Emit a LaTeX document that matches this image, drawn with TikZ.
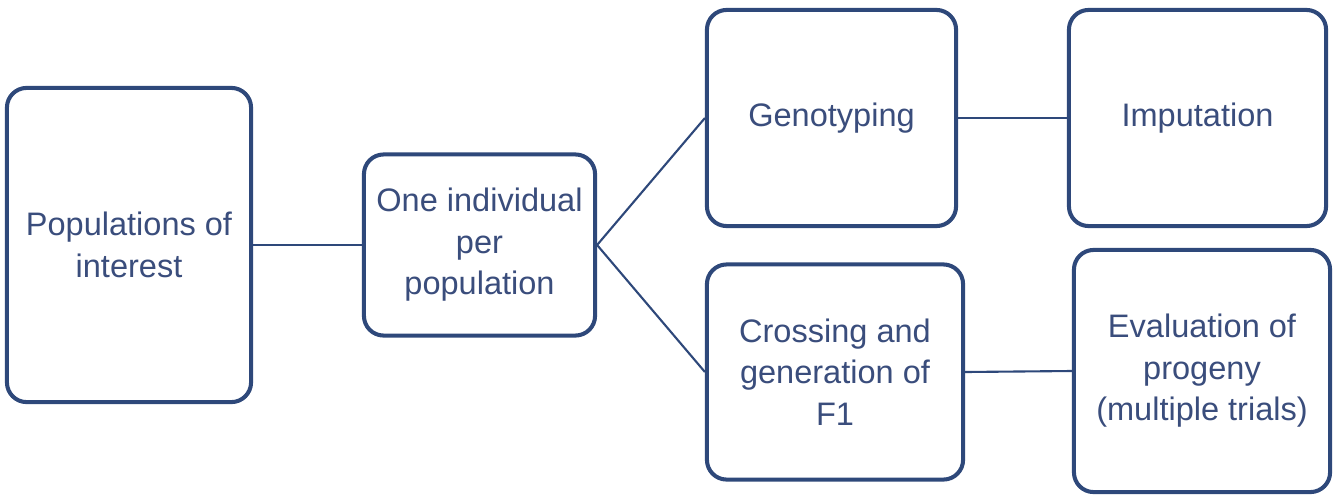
\documentclass[tikz,border=0pt]{standalone}
\usepackage{fontspec}
\setmainfont{Liberation Sans}
\usepackage{tikz}
\definecolor{boxblue}{HTML}{2E487A}
\definecolor{txtblue}{HTML}{3A4D7C}
\tikzset{
  stage/.style={draw=boxblue, line width=1.15pt, rounded corners=5.6pt, fill=white,
    align=center, inner sep=0pt, text=txtblue,
    font=\fontsize{9.25}{11.8}\selectfont},
  link/.style={draw=boxblue, line width=0.6pt},
}

\begin{document}
\begin{tikzpicture}[x=0.01cm, y=-0.01cm]
  \useasboundingbox (0,0) rectangle (1334,497);
  \node[stage, minimum width=2.44cm, minimum height=3.14cm] (pop) at (129,245) {Populations of\\interest};
  \node[stage, minimum width=2.31cm, minimum height=1.81cm] (ind) at (479.5,245) {One individual\\per\\population};
  \node[stage, minimum width=2.49cm, minimum height=2.16cm] (geno) at (831.5,118) {Genotyping};
  \node[stage, minimum width=2.57cm, minimum height=2.16cm] (imp) at (1197.5,118) {Imputation};
  \node[stage, minimum width=2.56cm, minimum height=2.15cm] (cross) at (835,372) {Crossing and\\generation of\\F1};
  \node[stage, minimum width=2.56cm, minimum height=2.42cm] (eval) at (1202,371) {Evaluation of\\progeny\\(multiple trials)};

  \draw[link] (pop.east) -- (ind.west);
  \draw[link] (ind.east) -- (geno.west);
  \draw[link] (ind.east) -- (cross.west);
  \draw[link] (geno.east) -- (imp.west);
  \draw[link] (cross.east) -- (eval.west);
\end{tikzpicture}
\end{document}
